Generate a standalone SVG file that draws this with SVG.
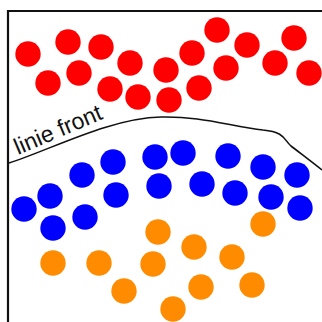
<svg xmlns="http://www.w3.org/2000/svg" width="322" height="322" viewBox="0 0 322 322">
<style>
.r{fill:#ff0000}.b{fill:#0000ff}.o{fill:#ff8c00}
.frame{fill:none;stroke:#111;stroke-width:2.2}
.front{fill:none;stroke:#111;stroke-width:1.6}
.lbl{font-family:"Liberation Sans",Arial,sans-serif;font-size:23px;fill:#111}
</style>
<rect width="322" height="322" fill="#fff"/>
<g id="frame"><path class="frame" d="M8,322 V11 H322"/></g>
<g id="connectors">
<path id="front-line" class="front" d="M9,163 C50,150 110,118 161,117 C200,116 230,126 263,130 C285,132 284,140 291,146 C300,153 312,162 322,170"/>
</g>
<g id="label"><text class="lbl" transform="translate(18,155) rotate(-23)">linie front</text></g>
<g id="red">
<circle class="r" cx="28" cy="54" r="12.7"/>
<circle class="r" cx="68" cy="42" r="12.7"/>
<circle class="r" cx="101" cy="47" r="12.7"/>
<circle class="r" cx="130" cy="63" r="12.7"/>
<circle class="r" cx="48" cy="83" r="12.7"/>
<circle class="r" cx="79" cy="73" r="12.7"/>
<circle class="r" cx="110" cy="89" r="12.7"/>
<circle class="r" cx="138" cy="97" r="12.7"/>
<circle class="r" cx="166" cy="70" r="12.7"/>
<circle class="r" cx="169" cy="100" r="12.7"/>
<circle class="r" cx="192" cy="53" r="12.7"/>
<circle class="r" cx="199" cy="88" r="12.7"/>
<circle class="r" cx="217" cy="30" r="12.7"/>
<circle class="r" cx="247" cy="45" r="12.7"/>
<circle class="r" cx="226" cy="68" r="12.7"/>
<circle class="r" cx="275" cy="63" r="12.7"/>
<circle class="r" cx="294" cy="38" r="12.7"/>
<circle class="r" cx="309" cy="73" r="12.7"/>
</g>
<g id="blue">
<circle class="b" cx="113" cy="162" r="12.7"/>
<circle class="b" cx="155" cy="157" r="12.7"/>
<circle class="b" cx="183" cy="153" r="12.7"/>
<circle class="b" cx="228" cy="156" r="12.7"/>
<circle class="b" cx="263" cy="167" r="12.7"/>
<circle class="b" cx="297" cy="175" r="12.7"/>
<circle class="b" cx="82" cy="175" r="12.7"/>
<circle class="b" cx="50" cy="196" r="12.7"/>
<circle class="b" cx="24" cy="209" r="12.7"/>
<circle class="b" cx="116" cy="195" r="12.7"/>
<circle class="b" cx="159" cy="186" r="12.7"/>
<circle class="b" cx="202" cy="184" r="12.7"/>
<circle class="b" cx="235" cy="193" r="12.7"/>
<circle class="b" cx="271" cy="197" r="12.7"/>
<circle class="b" cx="300" cy="208" r="12.7"/>
<circle class="b" cx="53" cy="228" r="12.7"/>
<circle class="b" cx="85" cy="217" r="12.7"/>
</g>
<g id="orange">
<circle class="o" cx="53" cy="263" r="12.7"/>
<circle class="o" cx="99" cy="263" r="12.7"/>
<circle class="o" cx="124" cy="291" r="12.7"/>
<circle class="o" cx="158" cy="232" r="12.7"/>
<circle class="o" cx="153" cy="264" r="12.7"/>
<circle class="o" cx="263" cy="224" r="12.7"/>
<circle class="o" cx="194" cy="247" r="12.7"/>
<circle class="o" cx="232" cy="257" r="12.7"/>
<circle class="o" cx="201" cy="287" r="12.7"/>
<circle class="o" cx="252" cy="285" r="12.7"/>
<circle class="o" cx="173" cy="309" r="12.7"/>
</g>
</svg>
